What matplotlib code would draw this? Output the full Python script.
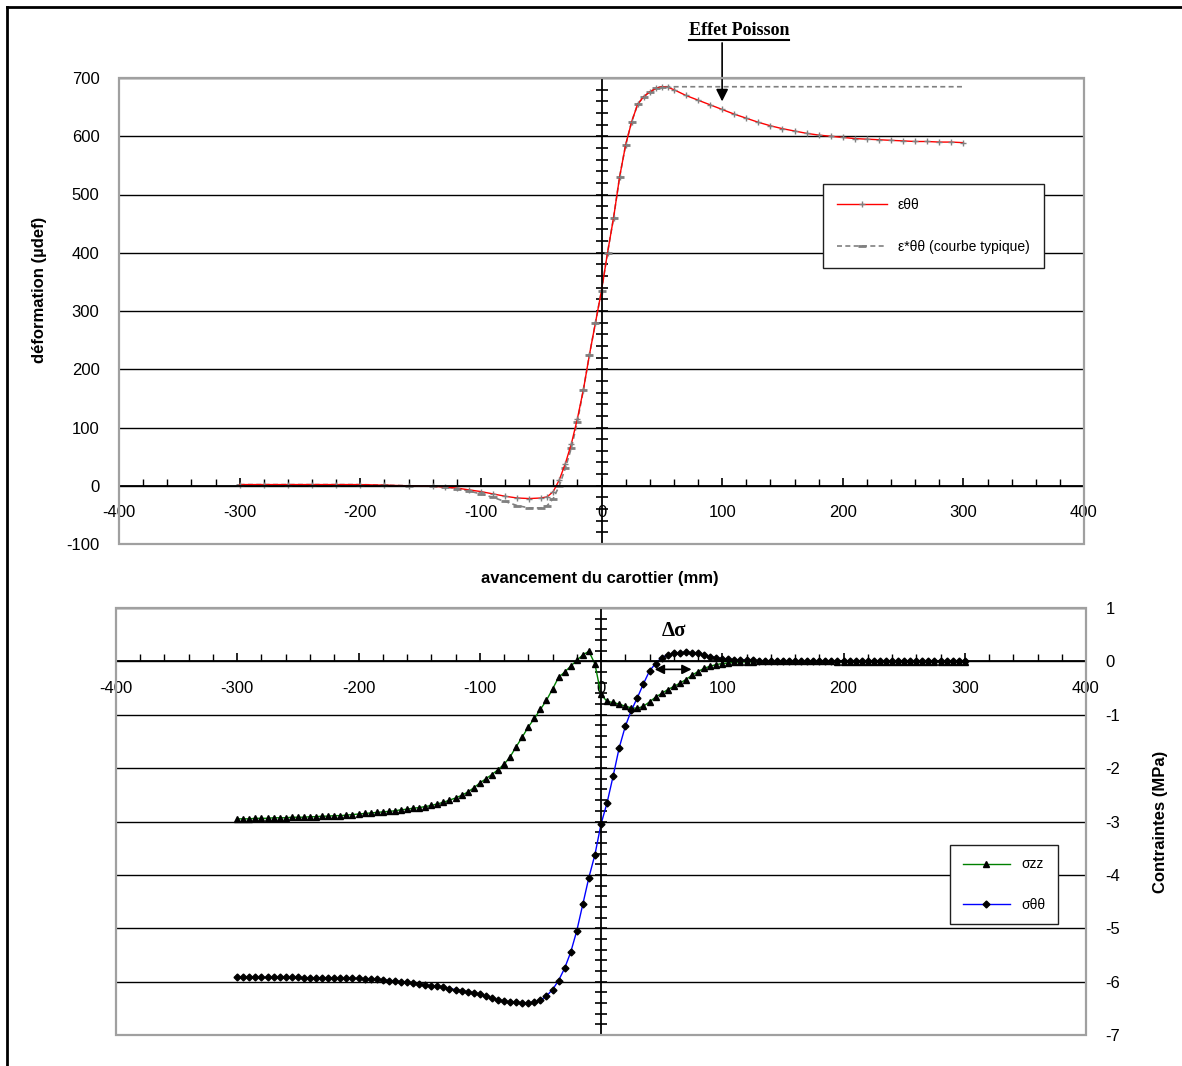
import numpy as np
import matplotlib.pyplot as plt
from matplotlib.lines import Line2D
from matplotlib.patches import Rectangle
from matplotlib.ticker import MultipleLocator, FixedLocator

plt.rcParams['font.family'] = ['Liberation Sans', 'DejaVu Sans']
plt.rcParams['axes.unicode_minus'] = False

# -------------------------------------------------------
# Data
# -------------------------------------------------------

# top panel : strain (micro-def) vs core advance (mm)
x_eps = [-300, -280, -260, -240, -220, -200, -180, -160, -140,
         -130, -120, -110, -100, -90, -80, -70, -60, -50,
         -45, -40, -35, -30, -25, -20, -15, -10, -5, 0, 5, 10, 15, 20,
         25, 30, 35, 40, 45, 50, 55, 60,
         70, 80, 90, 100, 110, 120, 130, 140, 150, 160, 170, 180,
         190, 200, 210, 220, 230, 240, 250, 260, 270, 280, 290, 300]
eps_tt = [2, 2, 2, 2, 2, 2, 1, 0, -1,
          -2, -4, -7, -10, -14, -18, -21, -22, -21,
          -19, -10, 10, 38, 72, 115, 165, 225, 280, 335, 400, 460, 530, 585,
          625, 655, 668, 676, 682, 685, 684, 680,
          670, 662, 654, 646, 638, 631, 624, 618, 613, 609, 605, 602,
          600, 598, 596, 595, 594, 593, 592, 591, 591, 590, 590, 589]

x_typ = [-300, -280, -260, -240, -220, -200, -180, -160, -140,
         -130, -120, -110, -100, -90, -80, -70, -60, -50,
         -45, -40, -35, -30, -25, -20, -15, -10, -5, 0, 5, 10, 15, 20,
         25, 30, 35, 40, 45, 50, 300]
eps_typ = [2, 2, 2, 2, 2, 2, 1, 0, -1,
           -2, -5, -9, -14, -20, -27, -34, -38, -38,
           -34, -22, 0, 30, 65, 110, 165, 225, 280, 335, 400, 460, 530, 585,
           625, 655, 668, 676, 682, 685, 685]

# bottom panel : stresses (MPa), one point every 5 mm from -300 to 300
x_sig = np.arange(-300, 301, 5)
sig_zz = [-2.95, -2.95, -2.95, -2.94, -2.94, -2.94, -2.93, -2.93, -2.93, -2.92,
          -2.92, -2.92, -2.91, -2.91, -2.90, -2.90, -2.89, -2.89, -2.88, -2.87,
          -2.86, -2.85, -2.84, -2.83, -2.82, -2.81, -2.80, -2.78, -2.77, -2.75,
          -2.74, -2.72, -2.70, -2.67, -2.64, -2.60, -2.56, -2.51, -2.45, -2.37, -2.28,
          -2.20, -2.12, -2.03, -1.93, -1.79, -1.60, -1.42, -1.23, -1.07, -0.90,
          -0.73, -0.52, -0.30, -0.20, -0.09, 0.02, 0.12, 0.19, -0.05, -0.62,
          -0.75, -0.77, -0.80, -0.84, -0.87, -0.88, -0.84, -0.76, -0.67, -0.60,
          -0.53, -0.47, -0.41, -0.34, -0.26, -0.19, -0.13, -0.09, -0.06, -0.04,
          -0.03, -0.02, -0.01, -0.01, -0.01, 0.00, 0.00, 0.00, 0.00, 0.00,
          0.00, 0.00, 0.00, 0.00, 0.00, 0.00, 0.00, 0.00, -0.01, -0.01,
          -0.01, -0.01, -0.01, -0.01, -0.01, -0.01, -0.01, -0.01, -0.01, -0.01,
          -0.01, -0.01, -0.01, -0.01, -0.01, -0.01, -0.01, -0.01, -0.01, -0.01]
sig_tt = [-5.92, -5.92, -5.92, -5.92, -5.92, -5.92, -5.92, -5.92, -5.92, -5.92,
          -5.92, -5.93, -5.93, -5.93, -5.93, -5.93, -5.93, -5.94, -5.94, -5.94,
          -5.94, -5.95, -5.95, -5.96, -5.97, -5.98, -5.99, -6.00, -6.01, -6.03,
          -6.04, -6.06, -6.08, -6.09, -6.11, -6.13, -6.15, -6.17, -6.19, -6.21, -6.24,
          -6.27, -6.31, -6.34, -6.37, -6.38, -6.39, -6.40, -6.40, -6.38, -6.35,
          -6.27, -6.15, -5.98, -5.75, -5.45, -5.05, -4.55, -4.05, -3.62, -3.05,
          -2.65, -2.15, -1.62, -1.22, -0.92, -0.68, -0.42, -0.18, -0.04, 0.07,
          0.12, 0.15, 0.16, 0.17, 0.16, 0.15, 0.12, 0.09, 0.07, 0.05,
          0.04, 0.03, 0.03, 0.02, 0.02, 0.01, 0.01, 0.01, 0.01, 0.01,
          0.00, 0.00, 0.00, 0.00, 0.00, 0.00, 0.00, 0.00, 0.00, 0.00,
          0.00, 0.00, 0.00, 0.00, 0.00, 0.00, 0.00, 0.00, 0.00, 0.00,
          0.00, 0.00, 0.00, 0.00, 0.00, 0.00, 0.00, 0.00, 0.00, 0.00]

# tick values
x_ticks = [-400, -300, -200, -100, 0, 100, 200, 300, 400]
eps_ticks = [-100, 0, 100, 200, 300, 400, 500, 600, 700]
sig_ticks = [-7, -6, -5, -4, -3, -2, -1, 0, 1]

W, H = 1182, 1066


def setup_axes(ax, yticks, yminor, label_side):
    ax.set_xlim(x_ticks[0], x_ticks[-1])
    ax.set_ylim(yticks[0], yticks[-1])
    ax.spines['left'].set_position(('data', 0))
    ax.spines['bottom'].set_position(('data', 0))
    ax.spines['top'].set_visible(False)
    ax.spines['right'].set_visible(False)
    for s in ('left', 'bottom'):
        ax.spines[s].set_color('black')
        ax.spines[s].set_linewidth(1.3)
        ax.spines[s].set_zorder(4)
    ax.set_xticks(x_ticks)
    ax.xaxis.set_minor_locator(MultipleLocator(20))
    ax.set_yticks(yticks)
    ax.yaxis.set_minor_locator(MultipleLocator(yminor))
    ax.tick_params(axis='x', which='major', direction='in', length=6, width=1.2,
                   pad=14, labelsize=12)
    ax.tick_params(axis='x', which='minor', direction='in', length=5, width=1)
    ax.tick_params(axis='y', which='both', direction='inout', length=9, width=1.2,
                   labelleft=False)
    ax.yaxis.grid(True, which='major', color='black', lw=1)
    ax.set_axisbelow(True)
    ax.add_patch(Rectangle((0, 0), 1, 1, transform=ax.transAxes, fill=False,
                           ec='#a0a0a0', lw=1.6, zorder=6, clip_on=False))
    sec = ax.secondary_yaxis(label_side)
    sec.yaxis.set_major_locator(FixedLocator(yticks))
    sec.tick_params(length=0, labelsize=12, pad=14)
    sec.spines[label_side].set_visible(False)
    return sec


fig = plt.figure(figsize=(W / 100, H / 100), dpi=100)

# -------------------------------------------------------
# Top panel
# -------------------------------------------------------
ax1 = fig.add_axes([119 / W, 1 - 544 / H, 965 / W, 466 / H])
setup_axes(ax1, eps_ticks, 20, 'left')

ax1.plot(x_typ, eps_typ, color='#808080', lw=1.2, ls=(0, (3, 2)),
         marker='_', ms=6, mew=2, mec='#808080',
         markevery=list(range(len(x_typ) - 1)),
         label='ε*θθ (courbe typique)', zorder=2)
ax1.plot(x_eps, eps_tt, color='#ff0000', lw=1, marker='+', ms=4, mew=1,
         mec='#808080', label='εθθ', zorder=3)

h, l = ax1.get_legend_handles_labels()
leg1 = ax1.legend(h[::-1], l[::-1], loc='upper left', bbox_to_anchor=(0.7295, 0.7725),
                  fontsize=10, frameon=True, fancybox=False, framealpha=1,
                  edgecolor='#202020', labelspacing=2.0, handlelength=3.6,
                  borderpad=1.0, borderaxespad=0)
leg1.get_frame().set_linewidth(1)
leg1.set_zorder(7)

ax1.annotate('', xy=(100, 655), xytext=(100, 765), annotation_clip=False,
             arrowprops=dict(arrowstyle='-|>', color='black', lw=1.2,
                             mutation_scale=18))
t_poisson = ax1.text(114, 782, 'Effet Poisson', ha='center', va='center',
                     family='Liberation Serif', weight='bold', fontsize=13,
                     clip_on=False)

# -------------------------------------------------------
# Bottom panel
# -------------------------------------------------------
ax2 = fig.add_axes([116 / W, 1 - 1035 / H, 970 / W, 427 / H])
setup_axes(ax2, sig_ticks, 0.2, 'right')

ax2.plot(x_sig, sig_zz, color='#008000', lw=1, marker='^', ms=5,
         mfc='black', mec='black', label='σzz', zorder=3)
ax2.plot(x_sig, sig_tt, color='#0000ff', lw=1, marker='D', ms=3.5,
         mfc='black', mec='black', label='σθθ', zorder=3)

leg2 = ax2.legend(loc='upper left', bbox_to_anchor=(0.860, 0.445),
                  fontsize=10, frameon=True, fancybox=False, framealpha=1,
                  edgecolor='#202020', labelspacing=1.9, handlelength=3.4,
                  borderpad=0.9, borderaxespad=0)
leg2.get_frame().set_linewidth(1)
leg2.set_zorder(7)

ax2.text(60, 0.56, 'Δσ', ha='center', va='center', family='Liberation Serif',
         weight='bold', fontsize=15)
ax2.annotate('', xy=(42, -0.15), xytext=(77, -0.15),
             arrowprops=dict(arrowstyle='<|-|>', color='black', lw=1.2,
                             mutation_scale=14))

# -------------------------------------------------------
# Axis titles and frame
# -------------------------------------------------------
fig.text(40 / W, 1 - 290 / H, 'déformation (µdef)', rotation=90, ha='center',
         va='center', fontsize=12, weight='bold')
fig.text(600 / W, 1 - 578 / H, 'avancement du carottier (mm)', ha='center',
         va='center', fontsize=12, weight='bold')
fig.text(1160 / W, 1 - 822 / H, 'Contraintes (MPa)', rotation=90, ha='center',
         va='center', fontsize=12, weight='bold')

fig.add_artist(Line2D([7 / W, 7 / W], [0, 1 - 7 / H], transform=fig.transFigure,
                      color='black', lw=2))
fig.add_artist(Line2D([7 / W, 1], [1 - 7 / H, 1 - 7 / H], transform=fig.transFigure,
                      color='black', lw=2))

# underline for "Effet Poisson"
fig.canvas.draw()
bb = t_poisson.get_window_extent()
fig.add_artist(Line2D([bb.x0, bb.x1], [bb.y0 - 1, bb.y0 - 1], transform=None,
                      color='black', lw=1.5))

fig.savefig('out.png', dpi=100)
